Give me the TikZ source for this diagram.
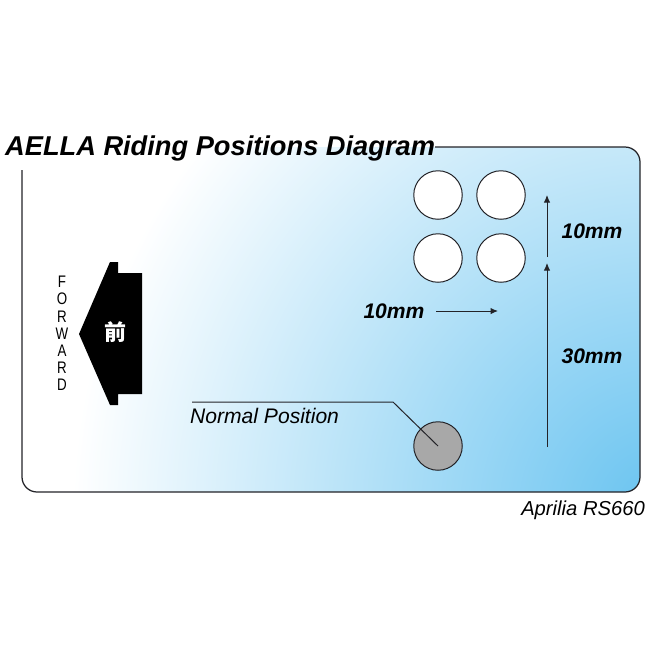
\documentclass[tikz,border=0pt]{standalone}
\usepackage{fontspec}
\setmainfont{Liberation Sans}
\newfontfamily\jpfont{Noto Sans CJK JP}
\usetikzlibrary{arrows.meta}
\definecolor{panelblue}{RGB}{104,195,240}
\definecolor{holegray}{RGB}{168,168,168}
\definecolor{inkgray}{RGB}{35,35,40}

\begin{document}
\begin{tikzpicture}[
	x=0.4mm, y=-0.4mm,
	hole/.style={
		draw=inkgray, circle, line width=0.4mm,
		fill=white, minimum size=19.4mm, inner sep=0pt
	},
	measure/.style={-{Latex[length=3mm,width=2.6mm]}, line width=0.4mm, draw=inkgray},
	dimtext/.style={font=\fontsize{24pt}{26pt}\selectfont\bfseries\itshape, inner sep=0pt},
	plaintext/.style={font=\fontsize{24pt}{26pt}\selectfont\itshape, inner sep=0pt},
	fwdletter/.style={font=\fontsize{19pt}{20pt}\selectfont, inner sep=0pt}
	]
	
	\useasboundingbox (0,0) rectangle (650,650);
	
	% Panel
	\begin{scope}
		\clip[rounded corners=6mm] (22,147) rectangle (640,492);
		\fill[white] (22,147) rectangle (640,492);
		\shade[inner color=panelblue, outer color=white] (660,510) circle [radius=235mm];
	\end{scope}
	\draw[line width=0.5mm, draw=inkgray, rounded corners=6mm]
		(22,170) -- (22,492) -- (640,492) -- (640,147) -- (435,147);
	
	% Title and model
	\node[anchor=base west, inner sep=0pt, font=\fontsize{31pt}{33pt}\selectfont\bfseries\itshape]
		(title) at (5,155) {AELLA Riding Positions Diagram};
	\node[plaintext, anchor=base east] (model) at (645,515) {\fontsize{23pt}{25pt}\selectfont Aprilia RS660};
	
	% Forward arrow
	\fill (79,334) -- (110,262) -- (118,262) -- (118,273) -- (142,273)
		-- (142,394) -- (118,394) -- (118,405) -- (110,405) -- cycle;
	\node[text=white, font=\jpfont\fontsize{25pt}{26pt}\selectfont\bfseries] (mae) at (115,332) {前};
	\foreach \ch [count=\i] in {F,O,R,W,A,R,D}
		\node[fwdletter] (fw\i) at (62,282+17.2*\i-17.2) {\scalebox{0.8}[1]{\ch}};
	
	% Positions
	\node[hole] (h11) at (438,195) {};
	\node[hole] (h12) at (501,195) {};
	\node[hole] (h21) at (438,258) {};
	\node[hole] (h22) at (501,258) {};
	\node[hole, fill=holegray] (normal) at (438,446) {};
	
	% Normal position leader
	\node[plaintext, anchor=base west] (normtext) at (190,423) {Normal Position};
	\coordinate (leadstart) at (192,402);
	\coordinate (leadbend) at (393,402);
	\draw[line width=0.4mm, draw=inkgray] (leadstart) -- (leadbend) -- (normal.center);
	
	% Offsets
	\coordinate (v0) at (547,447);
	\coordinate (v1) at (547,263);
	\coordinate (v2) at (547,257);
	\coordinate (v3) at (547,195);
	\draw[measure] (v0) -- (v1);
	\draw[measure] (v2) -- (v3);
	\node[dimtext] (up30) at (592,356) {30mm};
	\node[dimtext] (up10) at (592,231) {10mm};
	
	\node[dimtext] (side10) at (394,311) {10mm};
	\coordinate (s0) at (436,311);
	\coordinate (s1) at (498,311);
	\draw[measure] (s0) -- (s1);
	
\end{tikzpicture}
\end{document}
